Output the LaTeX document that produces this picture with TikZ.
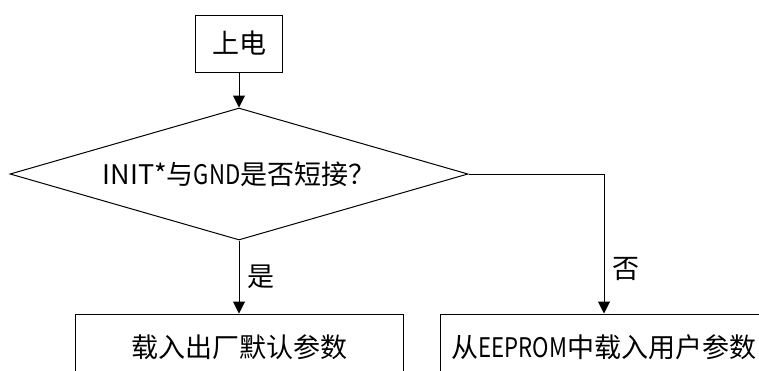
\documentclass[tikz,border=0pt]{standalone}
\usepackage{fontspec}
\setmainfont{Noto Sans CJK SC}
\newfontfamily\narrowfont[FakeStretch=0.82]{Noto Sans CJK SC}
\usetikzlibrary{shapes.geometric,arrows.meta}

\begin{document}
\begin{tikzpicture}[x=1pt, y=-1pt, line width=1pt,
  every node/.style={font=\fontsize{27}{31}\selectfont},
  startbox/.style={draw, minimum width=87pt, minimum height=57pt, inner sep=0pt},
  stepbox/.style={draw, minimum width=328pt, minimum height=66pt, inner sep=0pt},
  test/.style={draw, diamond, aspect=3.47, minimum width=458pt, minimum height=132pt, inner sep=0pt},
  flow/.style={-{Triangle[length=12pt,width=12pt]}}]

\clip (0,0) rectangle (759,370);

\node[startbox] (power) at (239,43.5) {上电};
\node[test] (init) at (239,174) {INIT*与{\narrowfont GND}是否短接？};
\node[stepbox] (factory) at (239,347) {载入出厂默认参数};
\node[stepbox] (user) at (604,347) {从{\narrowfont EEPROM}中载入用户参数};

\draw[flow] (power) -- (init);
\draw[flow] (init) -- node[right=5pt] {是} (factory);
\draw[flow] (init.east) -| node[pos=0.84, right=5pt] {否} (user);
\end{tikzpicture}
\end{document}
